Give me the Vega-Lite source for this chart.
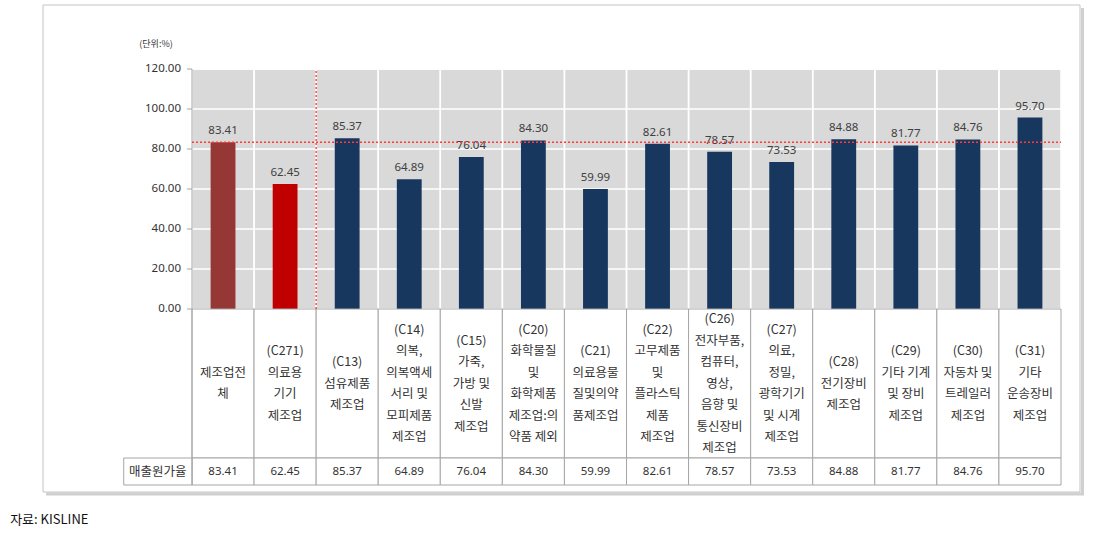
{
  "$schema": "https://vega.github.io/schema/vega-lite/v6.json",
  "width": 869,
  "height": 416,
  "autosize": "none",
  "padding": {"left": 192, "top": 69, "right": 35, "bottom": 55},
  "background": "white",
  "config": {"view": {"stroke": null}},
  "datasets": {
    "bars": [
      {"code": "T", "lines": ["제조업전", "체"], "value": 83.41, "grp": "전체"},
      {"code": "C271", "lines": ["(C271)", "의료용", "기기", "제조업"], "value": 62.45, "grp": "의료"},
      {"code": "C13", "lines": ["(C13)", "섬유제품", "제조업"], "value": 85.37, "grp": "기타"},
      {"code": "C14", "lines": ["(C14)", "의복,", "의복액세", "서리 및", "모피제품", "제조업"], "value": 64.89, "grp": "기타"},
      {"code": "C15", "lines": ["(C15)", "가죽,", "가방 및", "신발", "제조업"], "value": 76.04, "grp": "기타"},
      {"code": "C20", "lines": ["(C20)", "화학물질", "및", "화학제품", "제조업:의", "약품 제외"], "value": 84.30, "grp": "기타"},
      {"code": "C21", "lines": ["(C21)", "의료용물", "질및의약", "품제조업"], "value": 59.99, "grp": "기타"},
      {"code": "C22", "lines": ["(C22)", "고무제품", "및", "플라스틱", "제품", "제조업"], "value": 82.61, "grp": "기타"},
      {"code": "C26", "lines": ["(C26)", "전자부품,", "컴퓨터,", "영상,", "음향 및", "통신장비", "제조업"], "value": 78.57, "grp": "기타"},
      {"code": "C27", "lines": ["(C27)", "의료,", "정밀,", "광학기기", "및 시계", "제조업"], "value": 73.53, "grp": "기타"},
      {"code": "C28", "lines": ["(C28)", "전기장비", "제조업"], "value": 84.88, "grp": "기타"},
      {"code": "C29", "lines": ["(C29)", "기타 기계", "및 장비", "제조업"], "value": 81.77, "grp": "기타"},
      {"code": "C30", "lines": ["(C30)", "자동차 및", "트레일러", "제조업"], "value": 84.76, "grp": "기타"},
      {"code": "C31", "lines": ["(C31)", "기타", "운송장비", "제조업"], "value": 95.70, "grp": "기타"}
    ],
    "yticks": [{"v": 0}, {"v": 20}, {"v": 40}, {"v": 60}, {"v": 80}, {"v": 100}, {"v": 120}]
  },
  "resolve": {"scale": {"x": "independent"}},
  "layer": [
    {
      "data": {"values": [{}]},
      "layer": [
        {
          "mark": {"type": "rule", "color": "#d0d0d0", "strokeWidth": 3, "xOffset": 2.5, "yOffset": 3, "y2Offset": 3},
          "encoding": {
            "x": {"datum": 14.306, "type": "quantitative", "scale": {"domain": [0, 14], "nice": false, "zero": false}, "axis": null},
            "y": {"datum": -91.5, "type": "quantitative", "scale": {"domain": [-88, 120], "nice": false, "zero": false}, "axis": null},
            "y2": {"datum": 152}
          }
        },
        {
          "mark": {"type": "rule", "color": "#d0d0d0", "strokeWidth": 3, "yOffset": 2, "xOffset": 3, "x2Offset": 4},
          "encoding": {
            "x": {"datum": -2.4, "type": "quantitative", "scale": {"domain": [0, 14], "nice": false, "zero": false}, "axis": null},
            "x2": {"datum": 14.306},
            "y": {"datum": -91.5, "type": "quantitative", "scale": {"domain": [-88, 120], "nice": false, "zero": false}, "axis": null}
          }
        },
        {
          "mark": {"type": "rect", "filled": false, "stroke": "#c4c4c4", "strokeWidth": 1},
          "encoding": {
            "x": {"datum": -2.4, "type": "quantitative", "scale": {"domain": [0, 14], "nice": false, "zero": false}, "axis": null},
            "x2": {"datum": 14.306},
            "y": {"datum": -91.5, "type": "quantitative", "scale": {"domain": [-88, 120], "nice": false, "zero": false}, "axis": null},
            "y2": {"datum": 152}
          }
        },
        {
          "mark": {"type": "rect", "fill": "#d9d9d9"},
          "encoding": {
            "x": {"datum": 0, "type": "quantitative", "scale": {"domain": [0, 14], "nice": false, "zero": false}, "axis": null},
            "x2": {"datum": 14},
            "y": {"datum": 0, "type": "quantitative", "scale": {"domain": [-88, 120], "nice": false, "zero": false}, "axis": null},
            "y2": {"datum": 120}
          }
        },
        {
          "data": {"name": "yticks"},
          "mark": {"type": "rule", "color": "white", "strokeWidth": 1.5},
          "encoding": {
            "x": {"datum": 0, "type": "quantitative", "scale": {"domain": [0, 14], "nice": false, "zero": false}, "axis": null},
            "x2": {"datum": 14},
            "y": {"field": "v", "type": "quantitative", "scale": {"domain": [-88, 120], "nice": false, "zero": false}, "axis": null}
          }
        },
        {
          "mark": {"type": "text", "font": "Noto Sans CJK KR", "fontSize": 9, "color": "#333333"},
          "encoding": {
            "x": {"datum": -0.58, "type": "quantitative", "scale": {"domain": [0, 14], "nice": false, "zero": false}, "axis": null},
            "y": {"datum": 132.5, "type": "quantitative", "scale": {"domain": [-88, 120], "nice": false, "zero": false}, "axis": null},
            "text": {"value": "(단위:%)"}
          }
        },
        {
          "mark": {"type": "text", "font": "Noto Sans CJK KR", "fontSize": 13, "color": "#111111", "align": "left"},
          "encoding": {
            "x": {"datum": -2.93, "type": "quantitative", "scale": {"domain": [0, 14], "nice": false, "zero": false}, "axis": null},
            "y": {"datum": -105.5, "type": "quantitative", "scale": {"domain": [-88, 120], "nice": false, "zero": false}, "axis": null},
            "text": {"value": "자료: KISLINE"}
          }
        }
      ]
    },
    {
      "data": {"name": "bars"},
      "layer": [
        {
          "mark": {"type": "bar", "fill": null, "stroke": "white", "strokeWidth": 1.5},
          "encoding": {
            "x": {"field": "code", "type": "nominal", "sort": null, "scale": {"paddingInner": 0, "paddingOuter": 0}, "axis": null},
            "y": {"datum": 0, "type": "quantitative", "scale": {"domain": [-88, 120], "nice": false, "zero": false}, "axis": null},
            "y2": {"datum": 120}
          }
        },
        {
          "mark": {"type": "bar", "width": {"band": 0.4}},
          "encoding": {
            "x": {"field": "code", "type": "nominal", "sort": null, "scale": {"paddingInner": 0, "paddingOuter": 0}, "axis": null},
            "y": {"field": "value", "type": "quantitative", "scale": {"domain": [-88, 120], "nice": false, "zero": false}, "axis": null},
            "y2": {"datum": 0},
            "color": {
              "field": "grp", "type": "nominal",
              "scale": {"domain": ["전체", "의료", "기타"], "range": ["#953735", "#c00000", "#17375e"]},
              "legend": null
            }
          }
        },
        {
          "mark": {"type": "text", "baseline": "bottom", "dy": -6, "fontSize": 11.5, "font": "Noto Sans", "color": "#404040"},
          "encoding": {
            "x": {"field": "code", "type": "nominal", "sort": null, "scale": {"paddingInner": 0, "paddingOuter": 0}, "axis": null},
            "y": {"field": "value", "type": "quantitative", "scale": {"domain": [-88, 120], "nice": false, "zero": false}, "axis": null},
            "text": {"field": "value", "type": "quantitative", "format": ".2f"}
          }
        },
        {
          "mark": {"type": "bar", "fill": "white", "stroke": "#a6a6a6", "strokeWidth": 1},
          "encoding": {
            "x": {"field": "code", "type": "nominal", "sort": null, "scale": {"paddingInner": 0, "paddingOuter": 0}, "axis": null},
            "y": {"datum": -74.5, "type": "quantitative", "scale": {"domain": [-88, 120], "nice": false, "zero": false}, "axis": null},
            "y2": {"datum": 0}
          }
        },
        {
          "mark": {"type": "bar", "fill": "white", "stroke": "#a6a6a6", "strokeWidth": 1},
          "encoding": {
            "x": {"field": "code", "type": "nominal", "sort": null, "scale": {"paddingInner": 0, "paddingOuter": 0}, "axis": null},
            "y": {"datum": -88, "type": "quantitative", "scale": {"domain": [-88, 120], "nice": false, "zero": false}, "axis": null},
            "y2": {"datum": -74.5}
          }
        },
        {
          "mark": {"type": "text", "lineHeight": 21.5, "baseline": "middle", "fontSize": 12.5, "font": "Noto Sans CJK KR", "color": "#333333",
            "dy": {"expr": "-(length(datum.lines) - 1) * 21.5 / 2"}},
          "encoding": {
            "x": {"field": "code", "type": "nominal", "sort": null, "scale": {"paddingInner": 0, "paddingOuter": 0}, "axis": null},
            "y": {"datum": -37.25, "type": "quantitative", "scale": {"domain": [-88, 120], "nice": false, "zero": false}, "axis": null},
            "text": {"field": "lines", "type": "nominal"}
          }
        },
        {
          "mark": {"type": "text", "baseline": "middle", "fontSize": 11.5, "font": "Noto Sans", "color": "#333333"},
          "encoding": {
            "x": {"field": "code", "type": "nominal", "sort": null, "scale": {"paddingInner": 0, "paddingOuter": 0}, "axis": null},
            "y": {"datum": -81.25, "type": "quantitative", "scale": {"domain": [-88, 120], "nice": false, "zero": false}, "axis": null},
            "text": {"field": "value", "type": "quantitative", "format": ".2f"}
          }
        }
      ]
    },
    {
      "data": {"values": [{}]},
      "layer": [
        {
          "mark": {"type": "rect", "fill": "white", "stroke": "#a6a6a6", "strokeWidth": 1},
          "encoding": {
            "x": {"datum": -1.1, "type": "quantitative", "scale": {"domain": [0, 14], "nice": false, "zero": false}, "axis": null},
            "x2": {"datum": 0},
            "y": {"datum": -88, "type": "quantitative", "scale": {"domain": [-88, 120], "nice": false, "zero": false}, "axis": null},
            "y2": {"datum": -74.5}
          }
        },
        {
          "mark": {"type": "text", "baseline": "middle", "fontSize": 12.5, "font": "Noto Sans CJK KR", "color": "#333333"},
          "encoding": {
            "x": {"datum": -0.55, "type": "quantitative", "scale": {"domain": [0, 14], "nice": false, "zero": false}, "axis": null},
            "y": {"datum": -81.25, "type": "quantitative", "scale": {"domain": [-88, 120], "nice": false, "zero": false}, "axis": null},
            "text": {"value": "매출원가율"}
          }
        },
        {
          "mark": {"type": "rule", "color": "#a6a6a6", "strokeWidth": 1},
          "encoding": {
            "x": {"datum": 0, "type": "quantitative", "scale": {"domain": [0, 14], "nice": false, "zero": false}, "axis": null},
            "y": {"datum": -88, "type": "quantitative", "scale": {"domain": [-88, 120], "nice": false, "zero": false}, "axis": null},
            "y2": {"datum": 120}
          }
        },
        {
          "data": {"name": "yticks"},
          "mark": {"type": "rule", "color": "#a6a6a6", "strokeWidth": 1, "xOffset": -5},
          "encoding": {
            "x": {"datum": 0, "type": "quantitative", "scale": {"domain": [0, 14], "nice": false, "zero": false}, "axis": null},
            "x2": {"datum": 0},
            "y": {"field": "v", "type": "quantitative", "scale": {"domain": [-88, 120], "nice": false, "zero": false}, "axis": null}
          }
        },
        {
          "data": {"name": "yticks"},
          "mark": {"type": "text", "align": "right", "baseline": "middle", "dx": -11, "fontSize": 11.5, "font": "Noto Sans", "color": "#333333"},
          "encoding": {
            "x": {"datum": 0, "type": "quantitative", "scale": {"domain": [0, 14], "nice": false, "zero": false}, "axis": null},
            "y": {"field": "v", "type": "quantitative", "scale": {"domain": [-88, 120], "nice": false, "zero": false}, "axis": null},
            "text": {"field": "v", "type": "quantitative", "format": ".2f"}
          }
        },
        {
          "mark": {"type": "rule", "color": "#ff3a3a", "strokeWidth": 1.4, "strokeDash": [2, 2]},
          "encoding": {
            "x": {"datum": 0, "type": "quantitative", "scale": {"domain": [0, 14], "nice": false, "zero": false}, "axis": null},
            "x2": {"datum": 14},
            "y": {"datum": 83.41, "type": "quantitative", "scale": {"domain": [-88, 120], "nice": false, "zero": false}, "axis": null}
          }
        },
        {
          "mark": {"type": "rule", "color": "#ff3a3a", "strokeWidth": 1.4, "strokeDash": [2, 2]},
          "encoding": {
            "x": {"datum": 2, "type": "quantitative", "scale": {"domain": [0, 14], "nice": false, "zero": false}, "axis": null},
            "y": {"datum": 0, "type": "quantitative", "scale": {"domain": [-88, 120], "nice": false, "zero": false}, "axis": null},
            "y2": {"datum": 120}
          }
        }
      ]
    }
  ]
}
